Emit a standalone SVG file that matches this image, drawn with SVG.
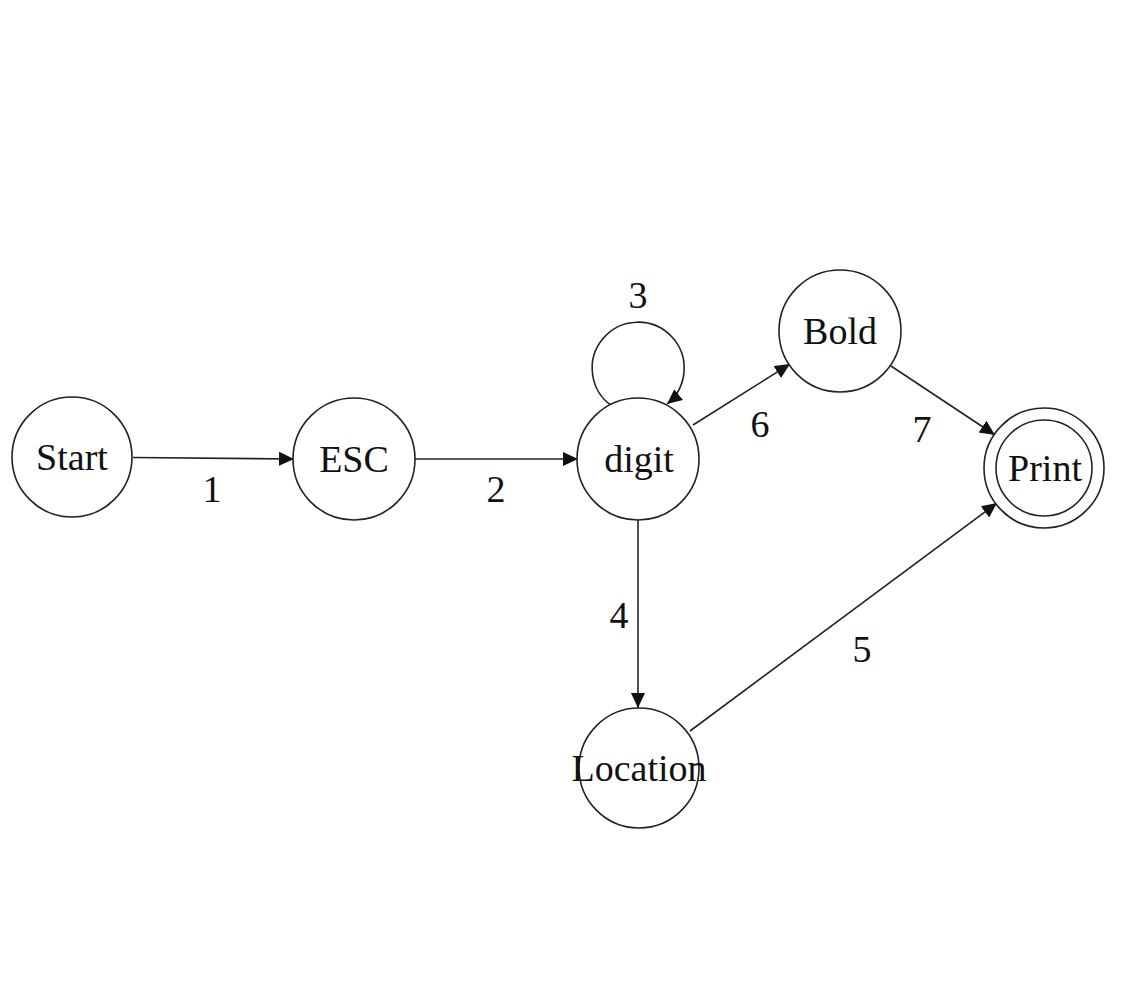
<svg xmlns="http://www.w3.org/2000/svg" width="1148" height="984" viewBox="0 0 1148 984">
<style>
.node{fill:#fff;stroke:#222;stroke-width:1.6}
.edge{fill:none;stroke:#222;stroke-width:1.6;marker-end:url(#arr)}
text{font-family:"Liberation Serif","Times New Roman",serif;font-size:38px;fill:#111;text-anchor:middle}
</style>
<defs>
<marker id="arr" markerUnits="userSpaceOnUse" markerWidth="16" markerHeight="16" viewBox="0 0 16 16" refX="15" refY="8" orient="auto">
<path d="M0,1 L15,8 L0,15 Z" fill="#111"/>
</marker>
</defs>
<rect width="1148" height="984" fill="#fff"/>
<g id="connectors">
<line class="edge" x1="133" y1="457.5" x2="294" y2="459"/>
<line class="edge" x1="415" y1="459" x2="578" y2="459"/>
<path class="edge" d="M612 406 A46 46 0 1 1 667 404"/>
<line class="edge" x1="638" y1="519" x2="638" y2="708"/>
<line class="edge" x1="690" y1="731" x2="997" y2="503"/>
<line class="edge" x1="693" y1="425" x2="790" y2="364"/>
<line class="edge" x1="891" y1="366" x2="995" y2="435"/>
<text x="212" y="502">1</text>
<text x="496" y="502">2</text>
<text x="638" y="308">3</text>
<text x="619" y="628">4</text>
<text x="862" y="662">5</text>
<text x="760" y="437">6</text>
<text x="922" y="442">7</text>
</g>
<g id="node-start"><circle class="node" cx="72" cy="457" r="60"/><text x="72" y="470">Start</text></g>
<g id="node-esc"><circle class="node" cx="354" cy="459" r="61"/><text x="354" y="472">ESC</text></g>
<g id="node-digit"><circle class="node" cx="638" cy="459" r="61"/><text x="639" y="472">digit</text></g>
<g id="node-bold"><circle class="node" cx="840" cy="331" r="61"/><text x="840" y="344">Bold</text></g>
<g id="node-print"><circle class="node" cx="1044" cy="468" r="60"/><circle class="node" cx="1044" cy="468" r="48"/><text x="1045" y="481">Print</text></g>
<g id="node-location"><circle class="node" cx="639" cy="768" r="60"/><text x="639" y="781">Location</text></g>
</svg>
